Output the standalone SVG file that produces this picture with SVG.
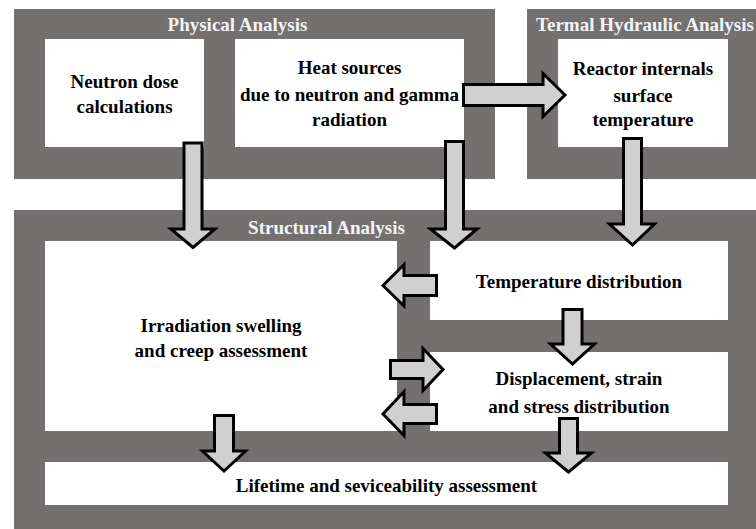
<svg xmlns="http://www.w3.org/2000/svg" width="756" height="529" viewBox="0 0 756 529">
<style>
.panel{fill:#74706f}
.box{fill:#ffffff}
.title{font-family:"Liberation Serif","Times New Roman",serif;font-weight:bold;font-size:19px;fill:#f3f4f7;text-anchor:middle}
.lbl{font-family:"Liberation Serif","Times New Roman",serif;font-weight:bold;font-size:19px;fill:#000;text-anchor:middle}
.arr{fill:#d0d0d0;stroke:#000;stroke-width:3;stroke-linejoin:miter}
</style>
<rect width="756" height="529" fill="#ffffff"/>
<g id="physical-analysis">
<rect class="panel" x="14" y="9" width="481" height="170"/>
<text class="title" x="237.5" y="30.5">Physical Analysis</text>
</g>
<g id="thermal-hydraulic-analysis">
<rect class="panel" x="527" y="9" width="229" height="170"/>
<text class="title" x="645" y="30.5">Termal Hydraulic Analysis</text>
</g>
<g id="structural-analysis">
<rect class="panel" x="14" y="210" width="742" height="319"/>
<text class="title" x="326.5" y="234">Structural Analysis</text>
</g>
<g id="neutron-dose">
<rect class="box" x="45" y="39" width="159" height="108"/>
<text class="lbl" x="124.5" y="87.5">Neutron dose</text>
<text class="lbl" x="124.5" y="112.5">calculations</text>
</g>
<g id="heat-sources">
<rect class="box" x="235" y="39" width="229" height="108"/>
<text class="lbl" x="349.5" y="74">Heat sources</text>
<text class="lbl" x="349.5" y="101">due to neutron and gamma</text>
<text class="lbl" x="349.5" y="126">radiation</text>
</g>
<g id="reactor-internals">
<rect class="box" x="558" y="39" width="170" height="108"/>
<text class="lbl" x="643" y="75">Reactor internals</text>
<text class="lbl" x="643" y="101.5">surface</text>
<text class="lbl" x="643" y="126">temperature</text>
</g>
<g id="irradiation">
<rect class="box" x="45" y="241" width="352" height="190"/>
<text class="lbl" x="221" y="332">Irradiation swelling</text>
<text class="lbl" x="221" y="357">and creep assessment</text>
</g>
<g id="temperature-distribution">
<rect class="box" x="430" y="241" width="298" height="79"/>
<text class="lbl" x="579" y="288">Temperature distribution</text>
</g>
<g id="displacement">
<rect class="box" x="430" y="352" width="298" height="79"/>
<text class="lbl" x="579" y="385">Displacement, strain</text>
<text class="lbl" x="579" y="413">and stress distribution</text>
</g>
<g id="lifetime">
<rect class="box" x="45" y="462" width="683" height="43"/>
<text class="lbl" x="386.5" y="492">Lifetime and seviceability assessment</text>
</g>
<g id="connectors">
<path class="arr" d="M184,143 H202 V229 H215 L193,247.5 L171,229 H184 Z"/>
<path class="arr" d="M445.5,141.5 H463.5 V229 H477 L454.5,248 L430.5,229 H445.5 Z"/>
<path class="arr" d="M463.5,84.5 H543 V73.5 L565,95 L543,116.5 V105.5 H463.5 Z"/>
<path class="arr" d="M623.5,138.5 H641.5 V224 H654.5 L632.5,245 L609.5,224 H623.5 Z"/>
<path class="arr" d="M436.5,275.5 H404 V264.5 L383,285.5 L404,306 V295.5 H436.5 Z"/>
<path class="arr" d="M563,309.5 H582 V344 H594.5 L572.5,364 L550.5,344 H563 Z"/>
<path class="arr" d="M390.5,360.5 H423 V348.5 L443,369.5 L423,390.5 V378.5 H390.5 Z"/>
<path class="arr" d="M436.5,404.5 H404 V391.5 L383,414 L404,435.5 V423.5 H436.5 Z"/>
<path class="arr" d="M214.5,415.5 H233.5 V451 H245.5 L224,471 L202.5,451 H214.5 Z"/>
<path class="arr" d="M559.5,418.5 H577.5 V453 H591.5 L568.5,472 L545.5,453 H559.5 Z"/>
</g>
</svg>
